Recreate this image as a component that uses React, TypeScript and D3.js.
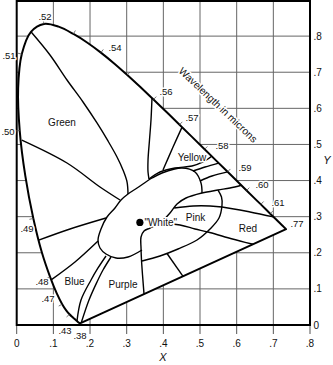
import React from 'react';
import * as d3 from 'd3';

// CIE 1931 spectral locus [nm, x, y]
const locus: [number, number, number][] = [
  [380, 0.1741, 0.005], [385, 0.174, 0.005], [390, 0.1738, 0.0049], [395, 0.1736, 0.0049],
  [400, 0.1733, 0.0048], [405, 0.173, 0.0048], [410, 0.1726, 0.0048], [415, 0.1721, 0.0048],
  [420, 0.1714, 0.0051], [425, 0.1703, 0.0058], [430, 0.1689, 0.0069], [435, 0.1669, 0.0086],
  [440, 0.1644, 0.0109], [445, 0.1611, 0.0138], [450, 0.1566, 0.0177], [455, 0.151, 0.0227],
  [460, 0.144, 0.0297], [465, 0.1355, 0.0399], [470, 0.1241, 0.0578], [475, 0.1096, 0.0868],
  [480, 0.0913, 0.1327], [485, 0.0687, 0.2007], [490, 0.0454, 0.295], [495, 0.0235, 0.4127],
  [500, 0.0082, 0.5384], [505, 0.0039, 0.6548], [510, 0.0139, 0.7502], [515, 0.0389, 0.812],
  [520, 0.0743, 0.8338], [525, 0.1142, 0.8262], [530, 0.1547, 0.8059], [535, 0.1929, 0.7816],
  [540, 0.2296, 0.7543], [545, 0.2658, 0.7243], [550, 0.3016, 0.6923], [555, 0.3373, 0.6589],
  [560, 0.3731, 0.6245], [565, 0.4087, 0.5896], [570, 0.4441, 0.5547], [575, 0.4788, 0.5202],
  [580, 0.5125, 0.4866], [585, 0.5448, 0.4544], [590, 0.5752, 0.4242], [595, 0.6029, 0.3965],
  [600, 0.627, 0.3725], [605, 0.6482, 0.3514], [610, 0.6658, 0.334], [615, 0.6801, 0.3197],
  [620, 0.6915, 0.3083], [625, 0.7006, 0.2993], [630, 0.7079, 0.292], [635, 0.714, 0.2859],
  [640, 0.719, 0.2809], [645, 0.723, 0.277], [650, 0.726, 0.274], [655, 0.7283, 0.2717],
  [660, 0.73, 0.27], [665, 0.7311, 0.2689], [670, 0.732, 0.268], [680, 0.7334, 0.2666],
  [690, 0.7344, 0.2656], [700, 0.7347, 0.2653],
];

const tickNm = [460, 470, 480, 490, 500, 510, 520, 530, 540, 550, 560, 570, 580, 590, 600, 610, 620];

// boundary lines (chromaticity x, y)
const lineGreenTop: [number, number][] = [
  [0.0389, 0.812], [0.0908, 0.7477], [0.1372, 0.6785], [0.1809, 0.6176], [0.219, 0.5594],
  [0.249, 0.5096], [0.2736, 0.4653], [0.2899, 0.4293], [0.3009, 0.3963], [0.3036, 0.3628],
];
const lineGreenBottom: [number, number][] = [[0.014, 0.512], [0.1372, 0.4486], [0.2272, 0.3822], [0.2818, 0.3462]];
const lineBlueGreen: [number, number][] = [[0.06, 0.235], [0.1454, 0.2659], [0.2436, 0.2963]];
const lineBlueTop: [number, number][] = [[0.094, 0.125], [0.159, 0.1745], [0.2218, 0.2326]];
const lineBlueRight: [number, number][] = [[0.1644, 0.0109], [0.1754, 0.0692], [0.2027, 0.1246], [0.2218, 0.1579], [0.2436, 0.1911]];
const lineViolet: [number, number][] = [[0.176, 0.006], [0.1972, 0.0692], [0.219, 0.1191], [0.2354, 0.1523], [0.2572, 0.1883]];
const whiteOval: [number, number][] = [
  [0.5054, 0.3655], [0.5027, 0.3932], [0.4864, 0.4237], [0.4509, 0.4348], [0.3963, 0.4209],
  [0.3691, 0.4071], [0.3283, 0.3794], [0.3036, 0.3628], [0.2845, 0.3462], [0.2681, 0.324],
  [0.2463, 0.2991], [0.2299, 0.2659], [0.2218, 0.2354], [0.2272, 0.2132], [0.2436, 0.1966],
  [0.2709, 0.1855], [0.3036, 0.1883], [0.3418, 0.2077],
];
const lineWhiteRight: [number, number][] = [
  [0.3473, 0.0854], [0.3432, 0.1385], [0.3404, 0.18], [0.3391, 0.2132], [0.3391, 0.2437],
  [0.3473, 0.2603], [0.3636, 0.2686], [0.3909, 0.2825], [0.4182, 0.3102], [0.4373, 0.3351],
  [0.4618, 0.3517], [0.5054, 0.3655], [0.5491, 0.3738], [0.5818, 0.3794], [0.613, 0.3869],
];
const pinkOutline: [number, number][] = [
  [0.5491, 0.3738], [0.5586, 0.3545], [0.56, 0.3323], [0.5518, 0.2963], [0.5273, 0.2659],
  [0.4918, 0.2354], [0.44, 0.2105], [0.3909, 0.1911], [0.3418, 0.1772],
];
const lineRedTop: [number, number][] = [[0.4296, 0.324], [0.4814, 0.3296], [0.5273, 0.3296], [0.56, 0.3268], [0.6364, 0.313], [0.7006, 0.2993]];
const lineRedBottom: [number, number][] = [[0.3909, 0.2825], [0.4455, 0.2769], [0.4864, 0.2659], [0.5218, 0.2575], [0.5682, 0.2437], [0.6091, 0.2326], [0.6446, 0.2235]];
const linePurpleRight: [number, number][] = [[0.41, 0.198], [0.4537, 0.1348]];
const lineYellowGreen: [number, number][] = [[0.369, 0.6286], [0.3663, 0.5677], [0.3622, 0.5123], [0.3582, 0.4569], [0.3582, 0.4237], [0.3609, 0.4043]];
const lineYellowLeft: [number, number][] = [[0.451, 0.548], [0.4264, 0.4929], [0.399, 0.4292]];
const lineYellowBottom: [number, number][] = [[0.3609, 0.4043], [0.3909, 0.4237], [0.4318, 0.4348], [0.4782, 0.4403], [0.5082, 0.4514], [0.5319, 0.4674]];
const lineOrange1: [number, number][] = [[0.4809, 0.4265], [0.5136, 0.4375], [0.5509, 0.4484]];
const lineOrange2: [number, number][] = [[0.5, 0.3988], [0.5327, 0.4126], [0.5752, 0.4242]];

const boundaryLines = [
  lineGreenTop, lineGreenBottom, lineBlueGreen, lineBlueTop, lineBlueRight, lineViolet,
  whiteOval, lineWhiteRight, pinkOutline, lineRedTop, lineRedBottom, linePurpleRight,
  lineYellowGreen, lineYellowLeft, lineYellowBottom, lineOrange1, lineOrange2,
];

const waveLabels = ['.52', '.54', '.56', '.57', '.58', '.59', '.60', '.61', '.77', '.51', '.50', '.49', '.48', '.47', '.43', '.38'];
const waveLabelPos: [number, number][] = [
  [0.0772, 0.8529], [0.2681, 0.7671], [0.4073, 0.6452], [0.4782, 0.5733], [0.56, 0.4957],
  [0.6228, 0.4348], [0.6692, 0.3877], [0.7128, 0.3379], [0.7646, 0.2797], [-0.021, 0.7449],
  [-0.0237, 0.5345], [0.0281, 0.2659], [0.069, 0.1191], [0.0854, 0.072], [0.1318, -0.0166],
  [0.1727, -0.0305],
];

const regionNames = ['Green', 'Yellow', 'Pink', 'Red', 'Blue', 'Purple'];
const regionPos: [number, number][] = [
  [0.1236, 0.5594], [0.4782, 0.4652], [0.4877, 0.2977], [0.6309, 0.2672], [0.1577, 0.1205], [0.29, 0.1135],
];

const whitePoint: [number, number] = [0.336, 0.284];
const xTicks = [0, 0.1, 0.2, 0.3, 0.4, 0.5, 0.6, 0.7, 0.8];
const xTickLabels = ['0', '.1', '.2', '.3', '.4', '.5', '.6', '.7', '.8'];
const yTicks = [0, 0.1, 0.2, 0.3, 0.4, 0.5, 0.6, 0.7, 0.8];
const yTickLabels = ['0', '.1', '.2', '.3', '.4', '.5', '.6', '.7', '.8'];

const FONT = 'Liberation Sans, Arial, Helvetica, sans-serif';

export default function App() {
  const x = d3.scaleLinear().domain([0, 0.8]).range([16.7, 310]);
  const y = d3.scaleLinear().domain([0, 0.9]).range([325, 0]);

  const locusPts: [number, number][] = locus.map((d) => [d[1], d[2]]);
  const curveLine = d3
    .line<[number, number]>()
    .x((d) => x(d[0]))
    .y((d) => y(d[1]))
    .curve(d3.curveCatmullRom.alpha(0.5));
  const locusPath = curveLine(locusPts) + 'Z';

  const cx = x(0.33);
  const cy = y(0.33);
  const ticks = tickNm.map((nm) => {
    const i = locus.findIndex((d) => d[0] === nm);
    const p = locus[i];
    const a = locus[Math.max(0, i - 1)];
    const b = locus[Math.min(locus.length - 1, i + 1)];
    const px = x(p[1]);
    const py = y(p[2]);
    let tx = x(b[1]) - x(a[1]);
    let ty = y(b[2]) - y(a[2]);
    const len = Math.hypot(tx, ty) || 1;
    tx /= len;
    ty /= len;
    let nx = ty;
    let ny = -tx;
    if ((px - cx) * nx + (py - cy) * ny < 0) {
      nx = -nx;
      ny = -ny;
    }
    return { x1: px, y1: py, x2: px + nx * 4, y2: py + ny * 4 };
  });

  const gridX = xTicks.filter((v) => v > 0 && v < 0.8);
  const gridY = yTicks.filter((v) => v > 0);

  const halo = { stroke: '#fff', strokeWidth: 3, paintOrder: 'stroke' as const, strokeLinejoin: 'round' as const };

  return (
    <svg width={333} height={365} style={{ position: 'absolute', left: 0, top: 0, background: '#fff' }}>
      <rect x={0} y={0} width={333} height={365} fill="#fff" />
      {/* grid */}
      {gridX.map((v) => (
        <line key={'gx' + v} x1={x(v)} x2={x(v)} y1={y(0.9)} y2={y(0)} stroke="#666" strokeWidth={1} />
      ))}
      {gridY.map((v) => (
        <line key={'gy' + v} x1={x(0)} x2={x(0.8)} y1={y(v)} y2={y(v)} stroke="#666" strokeWidth={1} />
      ))}
      {/* bottom tick marks */}
      {xTicks.map((v) => (
        <line key={'tx' + v} x1={x(v)} x2={x(v)} y1={y(0)} y2={y(0) + 9} stroke="#555" strokeWidth={1} />
      ))}
      {/* horseshoe fill */}
      <path d={locusPath} fill="#fff" stroke="none" />
      {/* frame */}
      <rect x={x(0)} y={1} width={x(0.8) - x(0)} height={y(0) - 1} fill="none" stroke="#000" strokeWidth={2} />
      {/* interior boundaries */}
      {boundaryLines.map((ln, i) => (
        <path key={'b' + i} d={curveLine(ln) || ''} fill="none" stroke="#000" strokeWidth={1.4} />
      ))}
      {/* spectral locus */}
      <path d={locusPath} fill="none" stroke="#000" strokeWidth={2} strokeLinejoin="round" />
      {ticks.map((t, i) => (
        <line key={'tk' + i} x1={t.x1} y1={t.y1} x2={t.x2} y2={t.y2} stroke="#555" strokeWidth={0.8} />
      ))}
      {/* white point */}
      <circle cx={x(whitePoint[0])} cy={y(whitePoint[1])} r={3.6} fill="#000" />
      <text x={x(whitePoint[0]) + 4.5} y={y(whitePoint[1]) + 3.6} fontFamily={FONT} fontSize={10} fill="#111" {...halo}>
        "White"
      </text>
      {/* region labels */}
      {regionNames.map((n, i) => (
        <text key={n} x={x(regionPos[i][0])} y={y(regionPos[i][1]) + 3.5} textAnchor="middle" fontFamily={FONT} fontSize={10} fill="#111" {...halo}>
          {n}
        </text>
      ))}
      {/* wavelength labels */}
      {waveLabels.map((w, i) => (
        <text key={w} x={x(waveLabelPos[i][0])} y={y(waveLabelPos[i][1]) + 3.3} textAnchor="middle" fontFamily={FONT} fontSize={9.5} fill="#111" {...halo}>
          {w}
        </text>
      ))}
      <text
        transform="translate(217.5,105.5) rotate(43.5)"
        textAnchor="middle"
        dominantBaseline="middle"
        fontFamily={FONT}
        fontSize={10.3}
        fill="#111"
        {...halo}
      >
        Wavelength in microns
      </text>
      {/* axes labels */}
      {xTicks.map((v, i) => (
        <text key={'xl' + v} x={x(v)} y={y(0) + 21.5} textAnchor="middle" fontFamily={FONT} fontSize={10} fill="#111">
          {xTickLabels[i]}
        </text>
      ))}
      {yTicks.map((v, i) => (
        <text key={'yl' + v} x={x(0.8) + 3.5} y={y(v) + 3.5} fontFamily={FONT} fontSize={10} fill="#111">
          {yTickLabels[i]}
        </text>
      ))}
      <text x={163} y={361} textAnchor="middle" fontFamily={FONT} fontSize={11} fontStyle="italic" fill="#111">
        X
      </text>
      <text x={327} y={164} textAnchor="middle" fontFamily={FONT} fontSize={11} fontStyle="italic" fill="#111">
        Y
      </text>
    </svg>
  );
}
